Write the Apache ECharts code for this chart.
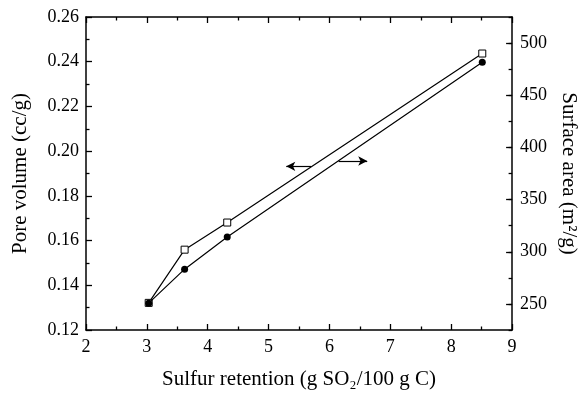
<!DOCTYPE html>
<html>
<head>
<meta charset="utf-8">
<script src="https://cdn.jsdelivr.net/npm/echarts@6/dist/echarts.min.js"></script>
<style>html,body{margin:0;padding:0;background:#fff}#c{width:587px;height:396px}</style>
</head>
<body>
<div id="c"></div>
<script>
const sulfurRetention = [3.03, 3.62, 4.32, 8.51];
const poreVolume = [0.132, 0.1472, 0.1616, 0.2398];
const surfaceArea = [251, 302, 328, 490];
const leftArrow = [[5.70, 0.1932], [5.29, 0.1932]];
const rightArrow = [[6.15, 387], [6.62, 387]];
const xTicks = [2, 3, 4, 5, 6, 7, 8, 9];
const areaTicks = [250, 300, 350, 400, 450, 500];

const FONT = 'Liberation Serif';
const chart = echarts.init(document.getElementById('c'));
const tickStyle = {color: '#000', width: 1.3};
chart.setOption({
  animation: false,
  backgroundColor: '#fff',
  grid: {left: 86, right: 71, top: 17, bottom: 66},
  xAxis: [{
    type: 'value', min: 2, max: 9, interval: 1, position: 'bottom',
    name: 'Sulfur retention (g SO₂/100 g C)', nameLocation: 'middle', nameGap: 39,
    nameTextStyle: {fontFamily: FONT, fontSize: 21, color: '#000'},
    axisLine: {show: true, onZero: false, lineStyle: {color: '#000', width: 1.5}},
    axisTick: {show: true, inside: true, length: 6, lineStyle: tickStyle},
    minorTick: {show: true, splitNumber: 2, length: 3.5, lineStyle: tickStyle},
    axisLabel: {fontFamily: FONT, fontSize: 18, color: '#000', margin: 8,
      customValues: xTicks},
    splitLine: {show: false}
  }, {
    type: 'value', min: 2, max: 9, interval: 1, position: 'top',
    axisLine: {show: true, onZero: false, lineStyle: {color: '#000', width: 1.5}},
    axisTick: {show: true, inside: true, length: 6, lineStyle: tickStyle},
    minorTick: {show: true, splitNumber: 2, length: 3.5, lineStyle: tickStyle},
    axisLabel: {show: false}, splitLine: {show: false}
  }],
  yAxis: [{
    type: 'value', min: 0.12, max: 0.26, interval: 0.02, position: 'left',
    name: 'Pore volume (cc/g)', nameLocation: 'middle', nameGap: 55,
    nameTextStyle: {fontFamily: FONT, fontSize: 21, color: '#000'},
    axisLine: {show: true, onZero: false, lineStyle: {color: '#000', width: 1.5}},
    axisTick: {show: true, inside: true, length: 6, lineStyle: tickStyle},
    minorTick: {show: true, splitNumber: 2, length: 3.5, lineStyle: tickStyle},
    axisLabel: {fontFamily: FONT, fontSize: 18, color: '#000', margin: 7,
      formatter: v => v.toFixed(2)},
    splitLine: {show: false}
  }, {
    type: 'value', min: 225, max: 525, interval: 25, position: 'right',
    name: 'Surface area (m²/g)', nameLocation: 'middle', nameGap: 45, nameRotate: -90,
    nameTextStyle: {fontFamily: FONT, fontSize: 21, color: '#000'},
    axisLine: {show: true, onZero: false, lineStyle: {color: '#000', width: 1.5}},
    axisTick: {show: true, inside: true, length: 6, lineStyle: tickStyle, customValues: areaTicks},
    axisLabel: {fontFamily: FONT, fontSize: 18, color: '#000', margin: 8, customValues: areaTicks},
    splitLine: {show: false}
  }, {
    type: 'value', min: 225, max: 525, interval: 25, position: 'right',
    axisLine: {show: false},
    axisTick: {show: true, inside: true, length: 3.5, lineStyle: tickStyle},
    axisLabel: {show: false}, splitLine: {show: false}
  }],
  series: [{
    type: 'line', xAxisIndex: 0, yAxisIndex: 1, z: 3,
    data: sulfurRetention.map((x, i) => [x, surfaceArea[i]]),
    symbol: 'rect', symbolSize: 7,
    itemStyle: {color: '#fff', borderColor: '#000', borderWidth: 1},
    lineStyle: {color: '#000', width: 1.2},
    markLine: {silent: true, symbol: ['none', 'arrow'], symbolSize: [7, 9],
      label: {show: false}, lineStyle: {color: '#000', width: 1.2, type: 'solid'},
      data: [[{coord: rightArrow[0]}, {coord: rightArrow[1]}]]}
  }, {
    type: 'line', xAxisIndex: 0, yAxisIndex: 0, z: 4,
    data: sulfurRetention.map((x, i) => [x, poreVolume[i]]),
    symbol: 'circle', symbolSize: 7,
    itemStyle: {color: '#000', borderColor: '#000', borderWidth: 0},
    lineStyle: {color: '#000', width: 1.2},
    markLine: {silent: true, symbol: ['none', 'arrow'], symbolSize: [7, 9],
      label: {show: false}, lineStyle: {color: '#000', width: 1.2, type: 'solid'},
      data: [[{coord: leftArrow[0]}, {coord: leftArrow[1]}]]}
  }]
});
</script>
</body>
</html>
